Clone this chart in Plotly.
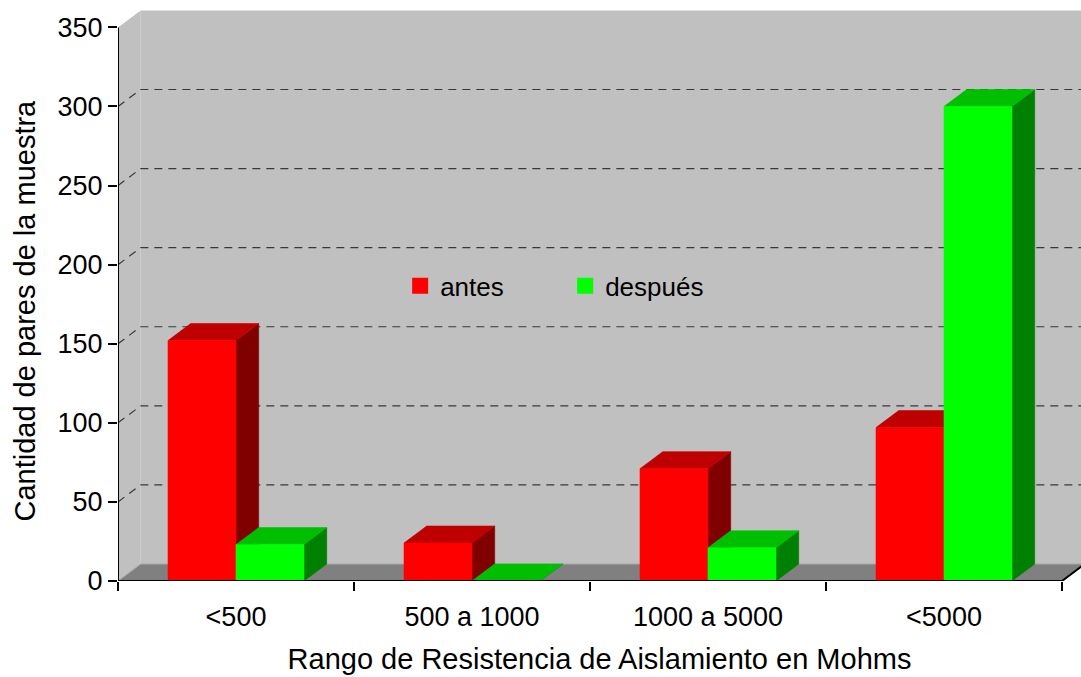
import plotly.graph_objects as go

# Data
categories = ["<500", "500 a 1000", "1000 a 5000", "<5000"]
antes = [152, 24, 71, 97]
despues = [23, 0, 21, 300]
y_ticks = [0, 50, 100, 150, 200, 250, 300, 350]

series = [
    ("antes", antes, {"front": "#FF0000", "top": "#BF0000", "side": "#800000"}, -1),
    ("después", despues, {"front": "#00FF00", "top": "#00BF00", "side": "#008000"}, 0),
]

# Layout geometry (plot area in pixels and depth of the pseudo-3D box)
W, H = 1081, 677
ML, MR, MT, MB = 118, 0, 9, 96
PX_PER_CAT = 236.0
PX_PER_UNIT = 1.5817
plot_w = W - ML - MR
plot_h = H - MT - MB
x_range = [-0.5, -0.5 + plot_w / PX_PER_CAT]
y_range = [0, plot_h / PX_PER_UNIT]
DX = 22.7 / PX_PER_CAT          # depth offset along x (data units)
DY = 17.0 / PX_PER_UNIT         # depth offset along y (data units)
BAR_W = 68.0 / PX_PER_CAT
YMAX = y_ticks[-1]

fig = go.Figure()


def poly(xs, ys, color):
    fig.add_trace(go.Scatter(
        x=xs + [xs[0]], y=ys + [ys[0]], mode="lines", fill="toself",
        fillcolor=color, line=dict(color=color, width=0.6),
        hoverinfo="skip", showlegend=False,
    ))


# Bars: side, top and front faces of each column
for name, vals, col, side in series:
    for i, v in enumerate(vals):
        x0 = i + side * BAR_W
        x1 = x0 + BAR_W
        poly([x1, x1, x1 + DX, x1 + DX], [0, v, v + DY, DY], col["side"])
        poly([x0, x1, x1 + DX, x0 + DX], [v, v, v + DY, v + DY], col["top"])
        if v > 0:
            poly([x0, x1, x1, x0], [0, 0, v, v], col["front"])

# Legend entries
for name, vals, col, side in series:
    fig.add_trace(go.Scatter(
        x=[None], y=[None], mode="markers", name=name,
        marker=dict(symbol="square", size=17, color=col["front"]),
    ))

shapes = []
xl = x_range[0]
xr = x_range[1] + 0.2
# back wall, left wall, floor
shapes.append(dict(type="rect", xref="x", yref="y", x0=xl + DX, x1=xr, y0=DY, y1=YMAX + DY,
                   fillcolor="#C0C0C0", line=dict(width=0), layer="below"))
shapes.append(dict(type="path", xref="x", yref="y",
                   path=f"M{xl},0 L{xl},{YMAX} L{xl + DX},{YMAX + DY} L{xl + DX},{DY} Z",
                   fillcolor="#C0C0C0", line=dict(width=0), layer="below"))
shapes.append(dict(type="path", xref="x", yref="y",
                   path=f"M{xl},0 L3.5,0 L{3.5 + DX},{DY} L{xl + DX},{DY} Z",
                   fillcolor="#808080", line=dict(width=0), layer="below"))
shapes.append(dict(type="path", xref="x", yref="y",
                   path=f"M{xl},0 L{xl + DX},{DY} L{xr},{DY}",
                   line=dict(color="#A8A8A8", width=1), layer="below"))
# dashed grid lines on the walls
for t in y_ticks[1:-1]:
    shapes.append(dict(type="path", xref="x", yref="y",
                       path=f"M{xl},{t} L{xl + DX},{t + DY} L{xr},{t + DY}",
                       line=dict(color="#383838", width=1.2, dash="8px,6px"), layer="below"))
# axis lines
shapes.append(dict(type="line", xref="x", yref="y", x0=xl, x1=xl, y0=0, y1=YMAX,
                   line=dict(color="black", width=2), layer="above"))
shapes.append(dict(type="path", xref="x", yref="y",
                   path=f"M{xl},0 L3.5,0 L{3.5 + DX},{DY}",
                   line=dict(color="black", width=2), layer="above"))

FONT = "Liberation Sans, Arial, sans-serif"
fig.update_layout(
    width=W, height=H,
    margin=dict(l=ML, r=MR, t=MT, b=MB),
    paper_bgcolor="white", plot_bgcolor="white",
    font=dict(family=FONT, size=27, color="black"),
    shapes=shapes,
    showlegend=True,
    legend=dict(orientation="h", x=0.293, y=0.516, xanchor="left", yanchor="middle",
                bgcolor="rgba(0,0,0,0)", font=dict(size=26),
                entrywidth=120, entrywidthmode="pixels", itemsizing="trace"),
    xaxis=dict(
        range=x_range, showgrid=False, zeroline=False, showline=False,
        tickmode="array", tickvals=list(range(len(categories))), ticktext=categories,
        ticks="outside", ticklen=12, tickcolor="rgba(0,0,0,0)",
        minor=dict(tickmode="array", tickvals=[i - 0.5 for i in range(len(categories) + 1)],
                   ticks="outside", ticklen=9, tickwidth=2, tickcolor="black"),
        title=dict(text="Rango de Resistencia de Aislamiento en Mohms", font=dict(size=29), standoff=17),
        fixedrange=True,
    ),
    yaxis=dict(
        range=y_range, showgrid=False, zeroline=False, showline=False,
        tickmode="array", tickvals=y_ticks,
        ticks="outside", ticklen=9, tickwidth=2, tickcolor="black",
        fixedrange=True,
    ),
    annotations=[dict(
        text="Cantidad de pares de la muestra", textangle=-90,
        xref="paper", yref="y", x=(25 - ML) / plot_w, y=171,
        xanchor="center", yanchor="middle", showarrow=False,
        font=dict(size=29),
    )],
)

fig.write_html("out.html")
